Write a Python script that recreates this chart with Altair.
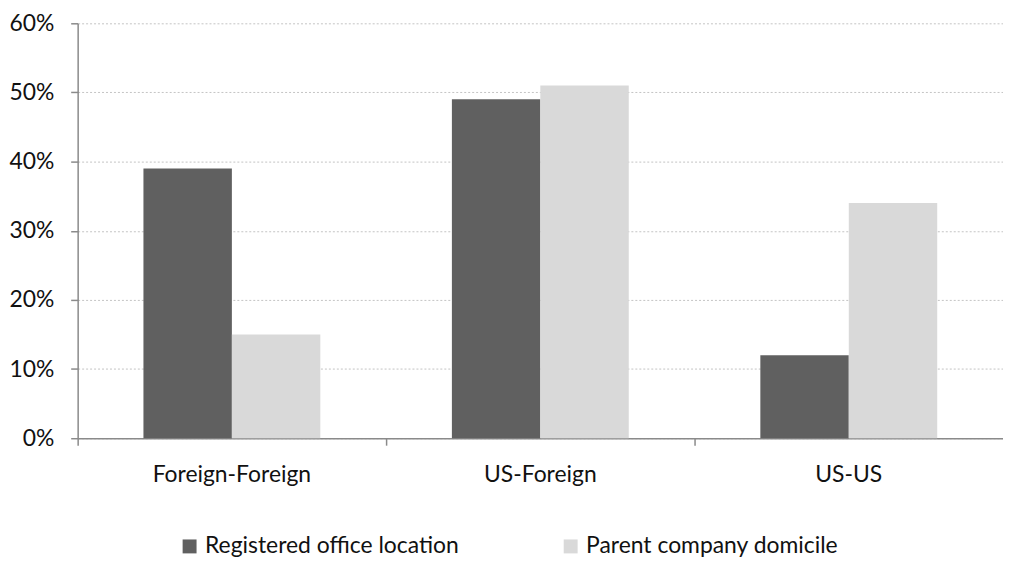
import altair as alt
import pandas as pd

categories = ["Foreign-Foreign", "US-Foreign", "US-US"]
series = ["Registered office location", "Parent company domicile"]
registered = [0.39, 0.49, 0.12]
parent = [0.15, 0.51, 0.34]
y_ticks = [0, 0.1, 0.2, 0.3, 0.4, 0.5, 0.6]
colors = ["#606060", "#d9d9d9"]

rows = []
for c, r, p in zip(categories, registered, parent):
    rows.append({"cat": c, "series": series[0], "value": r})
    rows.append({"cat": c, "series": series[1], "value": p})
df = pd.DataFrame(rows)

FONT = "Lato"
AX = "#8a8a8a"
FS = 23

chart = alt.Chart(df).mark_bar().encode(
    x=alt.X(
        "cat:N", sort=categories, title=None,
        scale=alt.Scale(paddingInner=0, paddingOuter=0),
        axis=alt.Axis(labelAngle=0, bandPosition=0, ticks=True, tickSize=7,
                      tickColor=AX, domainColor=AX, domainWidth=1.5, tickWidth=1.5,
                      labelPadding=19, labelFontSize=FS, labelFont=FONT,
                      labelColor="#111111", grid=False),
    ),
    xOffset=alt.XOffset("series:N", sort=series,
                        scale=alt.Scale(paddingInner=0, paddingOuter=0.744)),
    y=alt.Y(
        "value:Q", title=None,
        scale=alt.Scale(domain=[0, 0.6], nice=False),
        axis=alt.Axis(values=y_ticks, format=".0%", tickSize=7, tickColor=AX,
                      domainColor=AX, domainWidth=1.5, tickWidth=1.5,
                      labelPadding=17, labelFontSize=FS, labelFont=FONT,
                      labelColor="#111111", gridColor="#c4c4c4",
                      gridDash=[2, 2], gridWidth=1),
    ),
    color=alt.Color(
        "series:N", sort=series,
        scale=alt.Scale(domain=series, range=colors),
        legend=alt.Legend(title=None, orient="none", legendX=101, legendY=514,
                          direction="horizontal", symbolType="square",
                          symbolSize=196, symbolStrokeWidth=0,
                          labelFontSize=FS, labelFont=FONT, labelLimit=500,
                          labelColor="#111111", columnPadding=100,
                          labelOffset=4),
    ),
).properties(
    width=930, height=417,
    padding={"left": 70, "top": 14, "right": 0, "bottom": 118},
    autosize=alt.AutoSizeParams(type="none"),
).configure_view(stroke=None)

chart.save("out.html", embed_options={"renderer": "svg", "actions": False})
